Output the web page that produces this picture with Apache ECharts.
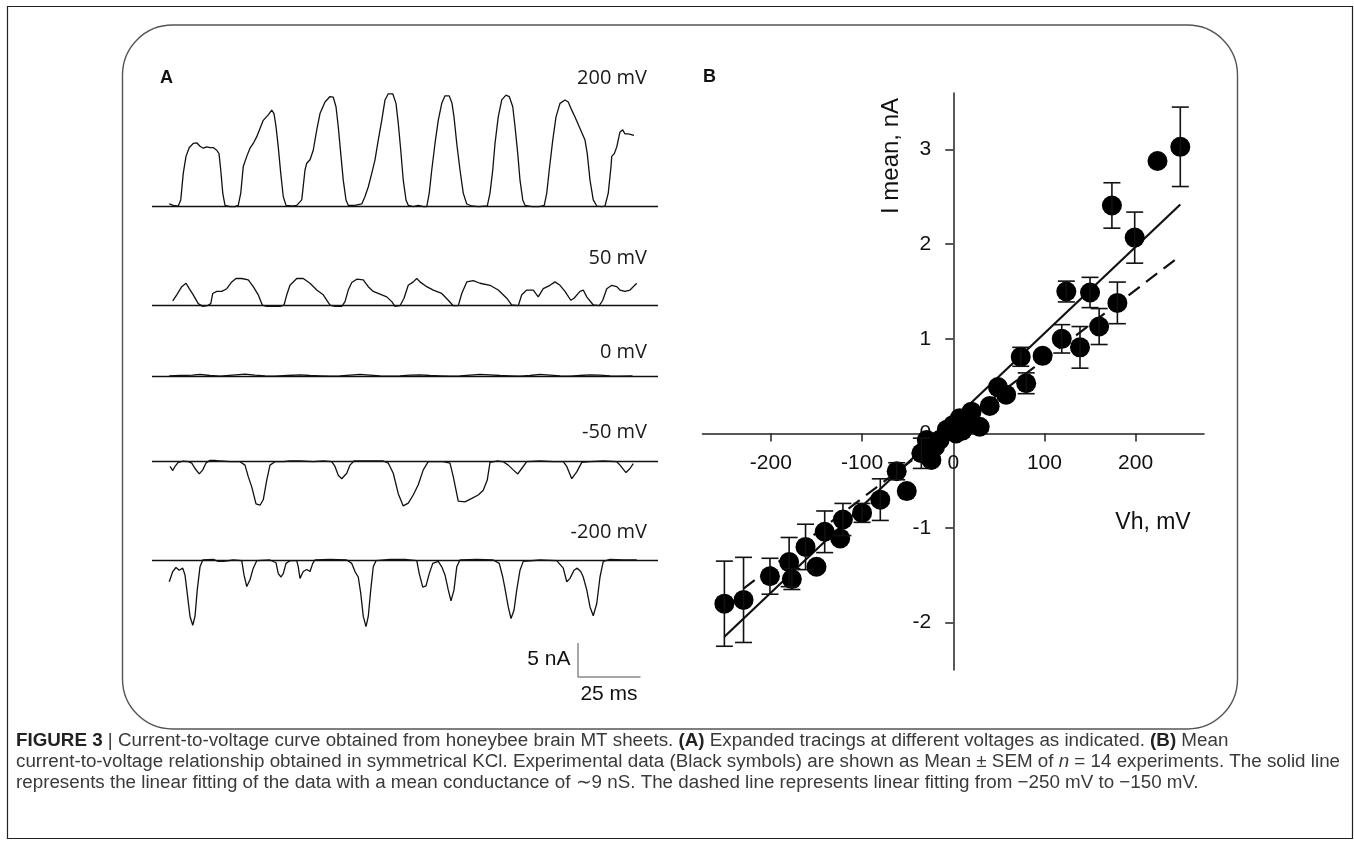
<!DOCTYPE html>
<html>
<head>
<meta charset="utf-8">
<script src="https://cdn.jsdelivr.net/npm/echarts@6/dist/echarts.min.js"></script>
<style>
html,body{margin:0;padding:0;background:#fff;}
#c{width:1354px;height:846px;}
</style>
</head>
<body>
<div id="c"></div>
<script>
// ---------------- DATA ----------------
// Panel A traces: [time (ms), current (nA)] relative to each trace's zero-current line
const TRACE_P200 = [[7.7,0.4],[9.3,0.2],[11.3,0.1],[12.3,1.0],[13.3,4.9],[14.4,7.4],[15.7,8.7],[17.3,9.3],[18.7,9.4],[20.0,8.9],[21.3,8.6],[22.7,8.8],[24.0,8.7],[25.3,8.7],[26.7,8.3],[27.6,7.8],[28.3,5.4],[29.1,2.0],[30.0,0.2],[32.0,0],[34.0,0],[35.3,0.2],[36.3,2.0],[37.3,5.9],[38.7,7.4],[40.0,8.6],[41.3,9.3],[42.7,10.3],[44.0,11.5],[45.3,12.7],[47.3,13.5],[48.7,14.2],[49.6,13.7],[50.4,11.8],[51.3,8.8],[52.3,4.9],[53.3,1.5],[54.4,0.2],[56.7,0.1],[58.7,0.2],[60.7,1.0],[62.0,5.4],[62.7,6.4],[64.0,6.9],[65.3,8.3],[66.7,11.3],[68.0,13.7],[70.0,15.4],[72.0,16.2],[73.3,16.1],[74.4,14.7],[75.3,11.8],[76.3,7.8],[77.3,3.9],[78.4,1.0],[79.3,0.2],[82.0,0.2],[84.7,0.4],[86.0,1.5],[87.3,2.9],[88.7,4.9],[90.0,6.9],[91.3,9.8],[92.7,12.7],[94.0,15.7],[95.3,16.6],[97.1,16.6],[98.4,15.2],[99.3,12.3],[100.3,8.3],[101.3,3.9],[102.4,1.0],[103.3,0.2],[105.3,0],[107.3,0.2],[109.3,0],[110.7,0],[111.7,2.0],[112.7,5.4],[114.0,9.3],[115.3,12.7],[116.7,15.2],[118.0,16.3],[119.7,16.3],[120.8,15.2],[121.6,13.2],[122.7,9.3],[124.0,5.4],[125.3,2.0],[126.7,0.4],[128.7,0.1],[131.3,0],[134.9,0.1],[136.0,2.0],[137.1,5.4],[138.0,9.3],[139.3,13.2],[140.7,15.7],[142.4,16.4],[143.7,16.2],[145.1,14.7],[146.0,11.8],[147.1,7.8],[148.0,3.9],[149.1,1.0],[150.0,0.2],[152.7,0],[155.7,0],[157.7,0.2],[158.7,2.0],[159.7,5.4],[161.1,9.8],[162.4,13.2],[164.0,15.2],[166.0,15.7],[167.3,15.4],[168.7,14.2],[170.0,13.2],[172.0,11.5],[174.0,9.8],[174.9,7.8],[176.0,3.9],[177.3,1.0],[178.7,0.1],[180.7,0],[182.0,0.1],[183.3,2.0],[184.4,5.9],[184.7,7.4],[185.7,7.8],[186.7,8.8],[188.0,11.0],[189.1,11.3],[190.0,10.7],[191.3,10.7],[193.6,10.5]];

const TRACE_P50 = [[9.1,0.7],[10.7,1.6],[12.7,2.8],[14.4,3.3],[15.7,2.5],[17.3,1.6],[19.3,0.3],[21.1,-0.1],[22.9,0],[24.3,0.3],[25.1,1.8],[26.7,2.1],[28.7,2.1],[30.7,2.5],[32.7,3.5],[34.4,4.0],[36.7,4.0],[39.3,3.8],[41.3,2.8],[43.3,1.6],[44.9,0.1],[46.7,-0.1],[52.0,-0.1],[53.6,0.1],[54.7,1.6],[56.0,3.0],[58.7,4.0],[61.3,4.0],[64.0,3.3],[66.7,2.3],[69.3,1.6],[72.0,0.1],[74.0,-0.1],[76.7,-0.1],[78.0,0.6],[79.3,2.3],[80.7,3.4],[82.7,3.9],[85.3,3.8],[87.3,2.8],[89.3,2.1],[92.0,1.7],[94.7,1.3],[96.7,0.6],[98.0,-0.1],[100.0,0],[101.6,1.1],[103.3,3.0],[105.3,3.5],[106.7,4.0],[108.0,3.5],[110.7,2.8],[113.3,2.3],[116.7,1.8],[119.3,0.8],[121.3,0],[123.3,0],[124.7,1.8],[126.7,3.5],[129.3,3.7],[132.0,3.3],[136.0,3.0],[139.3,2.3],[142.7,1.1],[144.7,0.1],[147.3,0],[148.7,1.6],[150.7,2.3],[153.3,2.3],[155.3,1.3],[157.3,2.5],[160.0,3.0],[162.0,3.5],[164.0,3.0],[166.0,2.1],[168.3,0.8],[169.6,1.1],[172.0,2.1],[173.3,2.3],[174.7,1.3],[177.3,0.1],[179.7,0],[181.1,0.8],[182.7,2.5],[184.7,3.0],[186.7,2.8],[188.0,2.3],[190.0,2.1],[192.0,2.3],[194.7,3.3]];

const TRACE_0 = [[7.7,0.1],[12,0.15],[17,0.2],[20,0.3],[24,0.15],[28,0.05],[33,0.2],[38,0.35],[42,0.2],[46,0.1],[50,0.05],[55,0.15],[60,0.25],[64,0.15],[68,0.1],[72,0.05],[76,0.1],[80,0.2],[84,0.3],[88,0.2],[92,0.1],[96,0.05],[100,0.1],[104,0.2],[108,0.25],[112,0.15],[116,0.1],[120,0.05],[124,0.1],[128,0.2],[132,0.3],[136,0.25],[140,0.15],[144,0.1],[148,0.05],[152,0.15],[156,0.3],[160,0.2],[164,0.1],[168,0.05],[172,0.15],[176,0.25],[180,0.2],[184,0.1],[188,0.05],[193,0.1]];

const TRACE_M50 = [[8.0,-0.7],[9.1,-1.3],[10.0,-0.7],[11.3,-0.1],[13.3,0.1],[15.3,0],[16.7,-0.2],[18.0,-1.0],[19.7,-1.8],[21.1,-1.2],[22.4,-0.2],[24.0,0.2],[26.0,0.2],[28.0,0.1],[32.0,0],[36.0,0],[38.0,-0.5],[39.3,-2.2],[40.7,-3.7],[42.4,-6.2],[44.0,-6.4],[45.3,-5.6],[46.7,-2.7],[48.0,-0.5],[50.0,0],[53.3,0],[56.0,0.1],[60.0,0.1],[65.3,0],[69.3,0.1],[72.7,0],[74.0,-0.7],[75.3,-2.0],[76.7,-2.5],[78.7,-1.7],[80.0,-0.5],[81.6,0.1],[86.7,0.1],[93.3,0.1],[95.3,-0.2],[97.3,-1.7],[99.3,-4.7],[101.3,-6.5],[103.3,-6.1],[105.3,-4.9],[107.3,-3.4],[109.3,-1.2],[111.3,0],[117.3,0],[120.0,-0.2],[121.3,-2.2],[123.3,-5.8],[126.0,-5.9],[128.7,-5.4],[131.3,-4.9],[133.3,-4.2],[134.9,-2.7],[136.0,-0.1],[138.7,0.1],[141.3,0],[143.3,-0.5],[145.3,-1.2],[147.1,-1.8],[148.7,-1.0],[150.7,0],[156.0,0.1],[161.3,0],[165.3,0],[166.7,-0.7],[168.7,-2.5],[170.7,-1.5],[172.7,-0.1],[176.0,0],[181.3,0.1],[186.7,0],[188.0,-0.5],[190.4,-1.6],[192.0,-1.0],[193.3,-0.3]];

const TRACE_M200 = [[7.7,-3.2],[9.1,-1.7],[10.4,-1.1],[11.7,-1.5],[13.1,-1.2],[14.0,-2.2],[14.9,-4.9],[16.0,-8.3],[17.1,-9.6],[18.0,-8.3],[18.9,-4.4],[20.0,-1.0],[21.1,0],[25.3,0.1],[27.3,-0.2],[29.3,-0.2],[33.3,0],[36.7,-0.1],[37.6,-2.2],[38.7,-3.9],[40.0,-2.9],[41.3,-1.2],[42.7,-0.1],[48.0,0],[50.4,-0.4],[51.3,-2.0],[52.4,-2.5],[53.3,-2.0],[54.4,-0.5],[56.0,-0.1],[58.7,-0.1],[59.3,-1.0],[60.0,-2.7],[61.3,-1.7],[62.7,-1.4],[64.0,-1.7],[65.1,-0.5],[66.0,0],[72.0,0.1],[78.7,0],[80.7,-0.5],[82.0,-1.7],[83.3,-2.5],[84.3,-4.9],[85.3,-8.3],[86.4,-9.8],[87.3,-8.3],[88.3,-4.4],[89.3,-1.0],[90.4,-0.1],[96.0,0.1],[102.0,0.1],[106.7,-0.1],[107.7,-2.0],[109.1,-4.0],[110.4,-3.8],[111.7,-2.0],[113.1,-0.5],[115.3,-0.2],[116.7,-1.0],[118.0,-2.2],[119.3,-4.4],[120.4,-6.0],[121.6,-4.4],[122.7,-1.0],[124.0,0],[130.7,0.1],[137.3,0],[139.7,-0.5],[141.1,-2.5],[142.0,-4.2],[143.3,-6.9],[144.4,-8.6],[145.6,-7.4],[146.7,-4.4],[148.0,-1.5],[149.3,-0.2],[156.0,0],[162.7,-0.1],[165.3,-1.2],[166.7,-3.2],[168.0,-2.7],[169.6,-1.5],[170.9,-1.2],[172.3,-1.7],[173.3,-2.5],[174.7,-4.4],[176.0,-6.9],[177.3,-8.2],[178.7,-6.4],[180.0,-2.5],[181.3,-0.2],[184.0,0.1],[189.3,0],[194.7,0]];

const TRACE_LABELS = ['200 mV','50 mV','0 mV','-50 mV','-200 mV'];
const SCALE_NA = 5, SCALE_MS = 25;

// Panel B: holding voltage (mV), mean current (nA), SEM (nA; 0 = bar not visible)
const VH    = [-251,-230,-201,-180,-177,-162,-150,-141,-124,-121,-100,-80,-62,-51,-35,-29,-24,-20,-15,-7,0,3,7,10,15,20,29,40,49,58,74,80,98,119,124,139,150,160,174,180,199,224,249];
const IMEAN = [-1.80,-1.76,-1.51,-1.36,-1.54,-1.20,-1.41,-1.04,-1.11,-0.91,-0.84,-0.70,-0.40,-0.61,-0.21,-0.07,-0.28,-0.14,-0.07,0.04,0.09,0.00,0.16,0.03,0.14,0.23,0.07,0.29,0.49,0.41,0.81,0.53,0.82,1.00,1.50,0.91,1.49,1.13,2.41,1.38,2.07,2.88,3.03];
const SEM   = [0.45,0.45,0.19,0.26,0.11,0.24,0,0.22,0,0.17,0.10,0.22,0.09,0,0.16,0,0,0,0,0,0,0,0,0,0,0,0,0,0,0,0.10,0.11,0,0.15,0.11,0.22,0.16,0.19,0.24,0.22,0.27,0,0.42];
const FIT_SOLID  = [[-251,-2.15],[249,2.42]];
const FIT_DASHED = [[-230,-1.64],[244,1.84]];
const X_TICKS = [-200,-100,0,100,200];
const Y_TICKS = [-2,-1,0,1,2,3];

// ---------------- LAYOUT ----------------
const chart = echarts.init(document.getElementById('c'), null, {renderer:'canvas'});
const K = 6.8;             // px per nA in panel A
const A_LEFT = 152, A_WIDTH = 506, T_MIN = 0.8, T_MAX = 203.2;
const traceLayout = [
  {base:206.7, lo:-1,  hi:18},
  {base:305.7, lo:-2,  hi:6},
  {base:376.5, lo:-2,  hi:2},
  {base:461.7, lo:-8,  hi:2},
  {base:560,   lo:-19, hi:2}
];
const traces = [TRACE_P200, TRACE_P50, TRACE_0, TRACE_M50, TRACE_M200];

const grids = [], xAxes = [], yAxes = [], series = [];
traceLayout.forEach((g, i) => {
  grids.push({left:A_LEFT, width:A_WIDTH, top:g.base - g.hi*K, height:(g.hi-g.lo)*K, containLabel:false});
  xAxes.push({type:'value', gridIndex:i, min:T_MIN, max:T_MAX, show:false});
  yAxes.push({type:'value', gridIndex:i, min:g.lo, max:g.hi, show:false});
  series.push({
    type:'line', xAxisIndex:i, yAxisIndex:i, data:traces[i], symbol:'none', showSymbol:false,
    lineStyle:{color:'#111', width:1.3}, silent:true, z:3,
    markLine:{silent:true, symbol:'none', label:{show:false},
      lineStyle:{color:'#111', width:1.3, type:'solid'}, data:[{yAxis:0}]}
  });
});
// scale bar in the -200 mV grid
const sbT = 171.2, sbI = -17.2;
series.push({type:'line', xAxisIndex:4, yAxisIndex:4, symbol:'none', silent:true,
  data:[[sbT, sbI + SCALE_NA],[sbT, sbI],[sbT + SCALE_MS, sbI]],
  lineStyle:{color:'#8a8a8a', width:1.5}});

// Panel B grid (axes cross at the origin)
const B = 5;
const B_LEFT = 702.5, B_WIDTH = 501.5, B_TOP = 92.9, B_HEIGHT = 577;
const BX_MIN = -275, BX_MAX = 275, BY_MIN = -2.5, BY_MAX = 3.6;
const xOff = -((0 - BY_MIN) / (BY_MAX - BY_MIN)) * B_HEIGHT;
const yOff = -((0 - BX_MIN) / (BX_MAX - BX_MIN)) * B_WIDTH;
grids.push({left:B_LEFT, width:B_WIDTH, top:B_TOP, height:B_HEIGHT, containLabel:false});
xAxes.push({type:'value', gridIndex:B, min:BX_MIN, max:BX_MAX, position:'bottom', offset:xOff,
  axisLine:{show:true, onZero:false, lineStyle:{color:'#222', width:1.5}},
  axisTick:{show:true, length:8, customValues:X_TICKS, lineStyle:{color:'#222', width:1.5}},
  axisLabel:{show:true, customValues:X_TICKS, color:'#111', fontSize:21, fontFamily:'Liberation Sans', margin:19},
  splitLine:{show:false}});
yAxes.push({type:'value', gridIndex:B, min:BY_MIN, max:BY_MAX, position:'left', offset:yOff,
  axisLine:{show:true, onZero:false, lineStyle:{color:'#222', width:1.5}},
  axisTick:{show:true, length:8, customValues:Y_TICKS, lineStyle:{color:'#222', width:1.5}},
  axisLabel:{show:true, customValues:Y_TICKS, color:'#111', fontSize:21, fontFamily:'Liberation Sans', margin:22},
  splitLine:{show:false}});

series.push({type:'line', xAxisIndex:B, yAxisIndex:B, data:FIT_SOLID, symbol:'none',
  lineStyle:{color:'#111', width:2.2}, silent:true, z:2});
series.push({type:'line', xAxisIndex:B, yAxisIndex:B, data:FIT_DASHED, symbol:'none',
  lineStyle:{color:'#111', width:2.2, type:[14,8]}, silent:true, z:2});
series.push({type:'scatter', xAxisIndex:B, yAxisIndex:B, symbol:'circle', symbolSize:20,
  data:VH.map((v,i)=>[v, IMEAN[i]]), itemStyle:{color:'#000', opacity:1}, silent:true, z:3});
const errData = [];
VH.forEach((v,i)=>{ if (SEM[i] > 0) errData.push([v, IMEAN[i]-SEM[i], IMEAN[i]+SEM[i]]); });
series.push({type:'custom', xAxisIndex:B, yAxisIndex:B, data:errData, silent:true, z:4,
  renderItem:function(params, api){
    const x = api.value(0);
    const p1 = api.coord([x, api.value(1)]);
    const p2 = api.coord([x, api.value(2)]);
    const w = 8.5;
    const st = {stroke:'#111', lineWidth:1.6};
    return {type:'group', children:[
      {type:'line', shape:{x1:p1[0], y1:p1[1], x2:p2[0], y2:p2[1]}, style:st},
      {type:'line', shape:{x1:p1[0]-w, y1:p1[1], x2:p1[0]+w, y2:p1[1]}, style:st},
      {type:'line', shape:{x1:p2[0]-w, y1:p2[1], x2:p2[0]+w, y2:p2[1]}, style:st}
    ]};
  }});

// ---------------- TEXT / FRAMES ----------------
function txt(x, y, text, opts){
  const o = Object.assign({fill:'#111', fontSize:18, fontFamily:'Liberation Sans', fontWeight:'normal', align:'left'}, opts||{});
  return {type:'text', x:x, y:y, silent:true, z:10, rotation:o.rotation||0,
    style:{text:text, fill:o.fill, fontSize:o.fontSize, fontFamily:o.fontFamily, fontWeight:o.fontWeight,
      align:o.align, verticalAlign:'middle', textAlign:o.align, textVerticalAlign:'middle', rich:o.rich}};
}
const labelY = [78, 258, 352, 432, 532];
const graphics = [
  {type:'rect', silent:true, z:0, shape:{x:7.5, y:6.5, width:1345, height:832}, style:{fill:'none', stroke:'#222', lineWidth:1.2}},
  {type:'rect', silent:true, z:0, shape:{x:122.5, y:25, width:1115, height:704, r:50}, style:{fill:'none', stroke:'#555', lineWidth:1.4}},
  txt(160, 78, 'A', {fontWeight:'bold', fontSize:18, fontFamily:'Liberation Sans'}),
  txt(703, 77, 'B', {fontWeight:'bold', fontSize:18, fontFamily:'Liberation Sans'}),
  txt(570.5, 659, '5 nA', {align:'right', fontSize:21}),
  txt(609, 694, '25 ms', {align:'center', fontSize:21}),
  txt(891.7, 156, 'I mean, nA', {align:'center', fontSize:24, rotation:Math.PI/2}),
  txt(1153, 523, 'Vh, mV', {align:'center', fontSize:23})
];
TRACE_LABELS.forEach((t,i)=>graphics.push(txt(647, labelY[i], t, {align:'right', fontSize:20, fontFamily:'Open Sans', fill:'#1a1a1a'})));

const CAP = '#3a3a3a';
const CFS = 18.8;
const capRich = {
  n:{fontSize:CFS, fontFamily:'Liberation Sans', fill:CAP, color:CAP},
  b:{fontSize:CFS, fontFamily:'Liberation Sans', fontWeight:'bold', fill:'#222', color:'#222'},
  i:{fontSize:CFS, fontFamily:'Liberation Sans', fontStyle:'italic', fill:CAP, color:CAP}
};
const CAPTION = [
  '{b|FIGURE 3}{n| | Current-to-voltage curve obtained from honeybee brain MT sheets. }{b|(A)}{n| Expanded tracings at different voltages as indicated. }{b|(B)}{n| Mean}',
  '{n|current-to-voltage relationship obtained in symmetrical KCl. Experimental data (Black symbols) are shown as Mean ± SEM of }{i|n}{n| = 14 experiments. The solid line}',
  '{n|represents the linear fitting of the data with a mean conductance of ∼9 nS. The dashed line represents linear fitting from −250 mV to −150 mV.}'
];
const capY = [741, 762, 783];
CAPTION.forEach((c,i)=>graphics.push(txt(16, capY[i], c, {fontSize:CFS, fill:CAP, rich:capRich})));

chart.setOption({
  animation:false,
  backgroundColor:'#fff',
  grid:grids, xAxis:xAxes, yAxis:yAxes, series:series,
  graphic:{elements:graphics}
});
</script>
</body>
</html>
